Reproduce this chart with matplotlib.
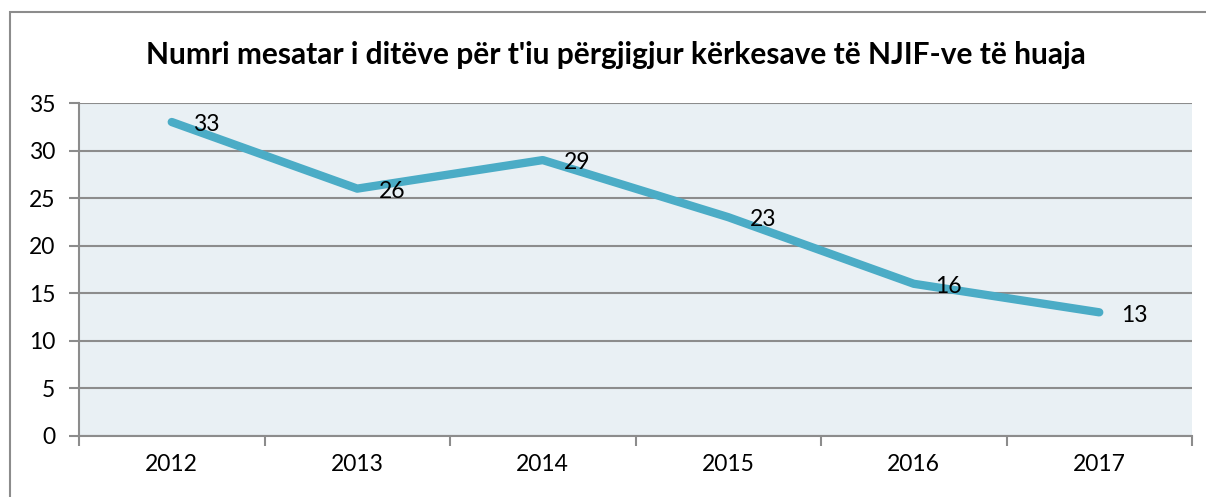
import matplotlib
matplotlib.use("Agg")
import matplotlib.pyplot as plt
from matplotlib.patches import Rectangle

# datos
anios = ['2012', '2013', '2014', '2015', '2016', '2017']
dias = [33, 26, 29, 23, 16, 13]
titulo = "Numri mesatar i ditëve për t'iu përgjigjur kërkesave të NJIF-ve të huaja"

plt.rcParams['font.family'] = ['Lato', 'DejaVu Sans']

fig = plt.figure(figsize=(12.06, 4.97), dpi=100)
ax = fig.add_axes([79/1206, 1-436/497, (1192-79)/1206, (436-103)/497])

# marco del gráfico (cortado a la derecha y abajo)
fig.patches.append(Rectangle((10/1206, -0.1), 1.2, 1-12/497+0.1, transform=fig.transFigure,
                             fill=False, edgecolor='#8c8c8c', linewidth=1.5))

x = list(range(len(anios)))
ax.plot(x, dias, color='#4BACC6', linewidth=6, solid_capstyle='round', solid_joinstyle='round', zorder=3)
for xi, v in zip(x, dias):
    ax.annotate(str(v), (xi, v), xytext=(25, -2), textcoords='offset points',
                ha='center', va='center', fontsize=16.5, zorder=4)

ax.set_facecolor('#E9F0F4')
ax.set_xlim(-0.5, len(anios)-0.5)
ax.set_ylim(0, 35)
ax.set_yticks(range(0, 36, 5))
ax.set_xticks(x)
ax.set_xticklabels(anios)
ax.set_xticks([i-0.5 for i in range(len(anios)+1)], minor=True)
ax.tick_params(axis='x', which='major', length=0, pad=13, labelsize=16.5)
ax.tick_params(axis='x', which='minor', length=7, color='#8c8c8c', width=1.5)
ax.tick_params(axis='y', length=7, color='#8c8c8c', width=1.5, labelsize=16.5, pad=10)
ax.grid(axis='y', color='#8c8c8c', linewidth=1.5)
ax.set_axisbelow(True)
for s in ['top', 'right']:
    ax.spines[s].set_visible(False)
for s in ['left', 'bottom']:
    ax.spines[s].set_color('#8c8c8c')
    ax.spines[s].set_linewidth(1.5)

fig.text(616/1206, 1-55/497, titulo, ha='center', va='center', fontsize=21.5, fontweight='bold')

fig.savefig('out.png', dpi=100)
